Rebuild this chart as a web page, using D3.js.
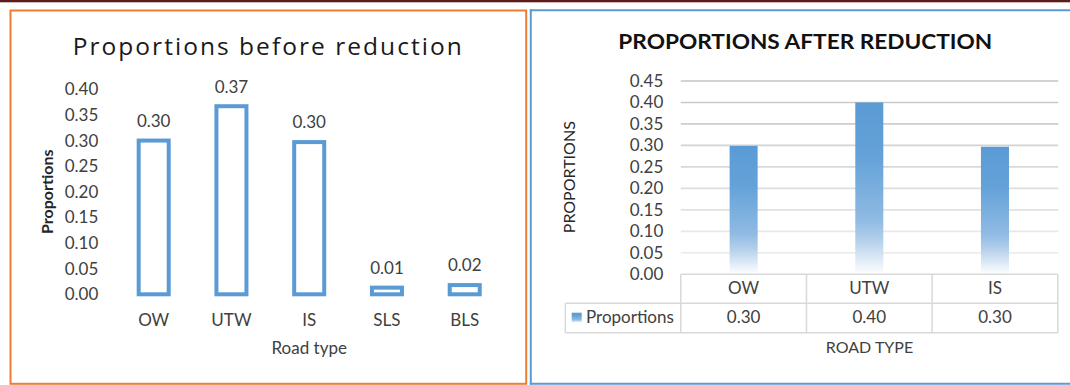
<!DOCTYPE html>
<html><head><meta charset="utf-8">
<script src="https://cdn.jsdelivr.net/npm/d3@7"></script>
<style>html,body{margin:0;padding:0;background:#fff;} svg{display:block;font-family:Lato,"Open Sans",sans-serif;}</style>
</head><body><div id="chart"></div>
<script>
// ---- data ----
const categoriesBefore = ["OW", "UTW", "IS", "SLS", "BLS"];
const valuesBefore = [0.300, 0.367, 0.297, 0.013, 0.018];
const ticksBefore = [0, 0.05, 0.10, 0.15, 0.20, 0.25, 0.30, 0.35, 0.40];
const categoriesAfter = ["OW", "UTW", "IS"];
const valuesAfter = [0.299, 0.400, 0.297];
const ticksAfter = [0, 0.05, 0.10, 0.15, 0.20, 0.25, 0.30, 0.35, 0.40, 0.45];
const seriesName = "Proportions";
const titleBefore = "Proportions before reduction";
const titleAfter = "PROPORTIONS AFTER REDUCTION";
const xTitleBefore = "Road type", yTitleBefore = "Proportions";
const xTitleAfter = "ROAD TYPE", yTitleAfter = "PROPORTIONS";

const W = 1070, H = 385;
const fmt = d3.format(".2f");
const svg = d3.select("#chart").append("svg").attr("width", W).attr("height", H);
svg.append("rect").attr("width", W).attr("height", H).attr("fill", "#fff");

const defs = svg.append("defs");
const grad = defs.append("linearGradient").attr("id", "barGrad").attr("x1", 0).attr("y1", 0).attr("x2", 0).attr("y2", 1);
[[0, "#5b9bd5"], [0.3, "#63a1d8"], [0.68, "#8fbae3"], [0.8, "#b3cfeb"], [1, "#ffffff"]]
  .forEach(([o, c]) => grad.append("stop").attr("offset", o).attr("stop-color", c));

// top dark strip
svg.append("rect").attr("x", 0).attr("y", 0).attr("width", W).attr("height", 2.3).attr("fill", "#5e1c1c");

// ---------- LEFT PANEL ----------
svg.append("rect").attr("x", 10.5).attr("y", 10.5).attr("width", 515.7).attr("height", 373.3)
  .attr("fill", "none").attr("stroke", "#ed7d31").attr("stroke-width", 2);

svg.append("text").attr("x", 267.2).attr("y", 55).attr("text-anchor", "middle")
  .attr("font-family", "'Open Sans', sans-serif")
  .attr("font-size", 24.5).attr("fill", "#1a1a1a").attr("textLength", 389).attr("lengthAdjust", "spacing")
  .text(titleBefore);

const yL = d3.scaleLinear().domain([0, 0.40]).range([294.3, 89.3]);
const xL = d3.scaleBand().domain(categoriesBefore).range([114.8, 503.6]).paddingInner(0.614).paddingOuter(0.307);

const axL = svg.append("g").attr("transform", "translate(98.3,0)")
  .call(d3.axisLeft(yL).tickValues(ticksBefore).tickFormat(fmt).tickSize(0).tickPadding(0));
axL.select(".domain").remove();
axL.attr("font-family", null).attr("font-size", null);
axL.selectAll("text").attr("font-size", 17).attr("fill", "#404040");

svg.append("g").selectAll("rect").data(categoriesBefore).join("rect")
  .attr("x", d => xL(d)).attr("width", xL.bandwidth())
  .attr("y", (d, i) => yL(valuesBefore[i])).attr("height", (d, i) => yL(0) - yL(valuesBefore[i]))
  .attr("fill", "#fff").attr("stroke", "#5b9bd5").attr("stroke-width", 4);

svg.append("g").selectAll("text").data(categoriesBefore).join("text")
  .attr("x", d => xL(d) + xL.bandwidth() / 2).attr("y", (d, i) => yL(valuesBefore[i]) - 13.6)
  .attr("text-anchor", "middle").attr("font-size", 17).attr("fill", "#404040")
  .text((d, i) => fmt(valuesBefore[i]));

svg.append("g").selectAll("text").data(categoriesBefore).join("text")
  .attr("x", d => xL(d) + xL.bandwidth() / 2).attr("y", 325.6)
  .attr("text-anchor", "middle").attr("font-size", 17).attr("fill", "#404040").text(d => d);

svg.append("text").attr("x", (xL.range()[0] + xL.range()[1]) / 2).attr("y", 354)
  .attr("text-anchor", "middle").attr("font-size", 17).attr("fill", "#404040").text(xTitleBefore);

svg.append("text").attr("transform", "translate(52.5,191.7) rotate(-90)")
  .attr("text-anchor", "middle").attr("font-size", 16).attr("font-weight", 700).attr("fill", "#262626")
  .text(yTitleBefore);

// ---------- RIGHT PANEL ----------
const blue = "#5b9bd5";
svg.append("line").attr("x1", 530.8).attr("x2", 530.8).attr("y1", 9.3).attr("y2", 384.8).attr("stroke", blue).attr("stroke-width", 2);
svg.append("line").attr("x1", 529.8).attr("x2", W).attr("y1", 10.2).attr("y2", 10.2).attr("stroke", blue).attr("stroke-width", 2);
svg.append("line").attr("x1", 529.8).attr("x2", W).attr("y1", 383.8).attr("y2", 383.8).attr("stroke", blue).attr("stroke-width", 2);

svg.append("text").attr("x", 805.3).attr("y", 49.3).attr("text-anchor", "middle")
  .attr("font-size", 21).attr("font-weight", 700).attr("fill", "#111")
  .attr("textLength", 374).attr("lengthAdjust", "spacingAndGlyphs").text(titleAfter);

const yR = d3.scaleLinear().domain([0, 0.45]).range([274.3, 81]);
const xR = d3.scaleBand().domain(categoriesAfter).range([680.8, 1057.8]).paddingInner(0.777).paddingOuter(0.3885);
const gridCol = d3.scaleLinear().domain([0.05, 0.45]).range(["#ececec", "#c4c4c4"]);

svg.append("g").selectAll("line").data(ticksAfter.filter(t => t > 0)).join("line")
  .attr("x1", 680.8).attr("x2", 1058.3).attr("y1", d => yR(d)).attr("y2", d => yR(d))
  .attr("stroke", d => gridCol(d)).attr("stroke-width", 1.7);

const axR = svg.append("g").attr("transform", "translate(663.3,0)")
  .call(d3.axisLeft(yR).tickValues(ticksAfter).tickFormat(fmt).tickSize(0).tickPadding(0));
axR.select(".domain").remove();
axR.attr("font-family", null).attr("font-size", null);
axR.selectAll("text").attr("font-size", 17).attr("fill", "#404040");

svg.append("g").selectAll("rect").data(categoriesAfter).join("rect")
  .attr("x", d => xR(d)).attr("width", xR.bandwidth())
  .attr("y", (d, i) => yR(valuesAfter[i])).attr("height", (d, i) => yR(0) - yR(valuesAfter[i]))
  .attr("fill", "url(#barGrad)");

// data table
const step = xR.step(), x0 = xR.range()[0], x1 = xR.range()[1];
const rowMid = 303.3, rowBot = 332.7, legLeft = 565.3;
const tbl = svg.append("g").attr("stroke", "#d9d9d9").attr("stroke-width", 1.5);
tbl.append("line").attr("x1", x0).attr("x2", x1).attr("y1", yR(0)).attr("y2", yR(0));
tbl.append("line").attr("x1", legLeft).attr("x2", x1).attr("y1", rowMid).attr("y2", rowMid);
tbl.append("line").attr("x1", legLeft).attr("x2", x1).attr("y1", rowBot).attr("y2", rowBot);
tbl.selectAll("line.v").data(d3.range(categoriesAfter.length + 1)).join("line").attr("class", "v")
  .attr("x1", i => x0 + i * step).attr("x2", i => x0 + i * step).attr("y1", yR(0)).attr("y2", rowBot);
tbl.append("line").attr("x1", legLeft).attr("x2", legLeft).attr("y1", rowMid).attr("y2", rowBot);

svg.append("g").selectAll("text").data(categoriesAfter).join("text")
  .attr("x", d => xR(d) + xR.bandwidth() / 2).attr("y", 294.4)
  .attr("text-anchor", "middle").attr("font-size", 17).attr("fill", "#404040").text(d => d);
svg.append("g").selectAll("text").data(categoriesAfter).join("text")
  .attr("x", d => xR(d) + xR.bandwidth() / 2).attr("y", 323.4)
  .attr("text-anchor", "middle").attr("font-size", 17).attr("fill", "#404040").text((d, i) => fmt(valuesAfter[i]));

svg.append("rect").attr("x", 571.7).attr("y", 312.7).attr("width", 10).attr("height", 10).attr("fill", "url(#barGrad)");
svg.append("text").attr("x", 586).attr("y", 323.4).attr("font-size", 17).attr("fill", "#404040").text(seriesName);

svg.append("text").attr("x", 869.5).attr("y", 352.6).attr("text-anchor", "middle")
  .attr("font-size", 16).attr("fill", "#404040").text(xTitleAfter);

svg.append("text").attr("transform", "translate(575,177.2) rotate(-90)")
  .attr("text-anchor", "middle").attr("font-size", 16).attr("fill", "#262626").text(yTitleAfter);
</script>
</body></html>
